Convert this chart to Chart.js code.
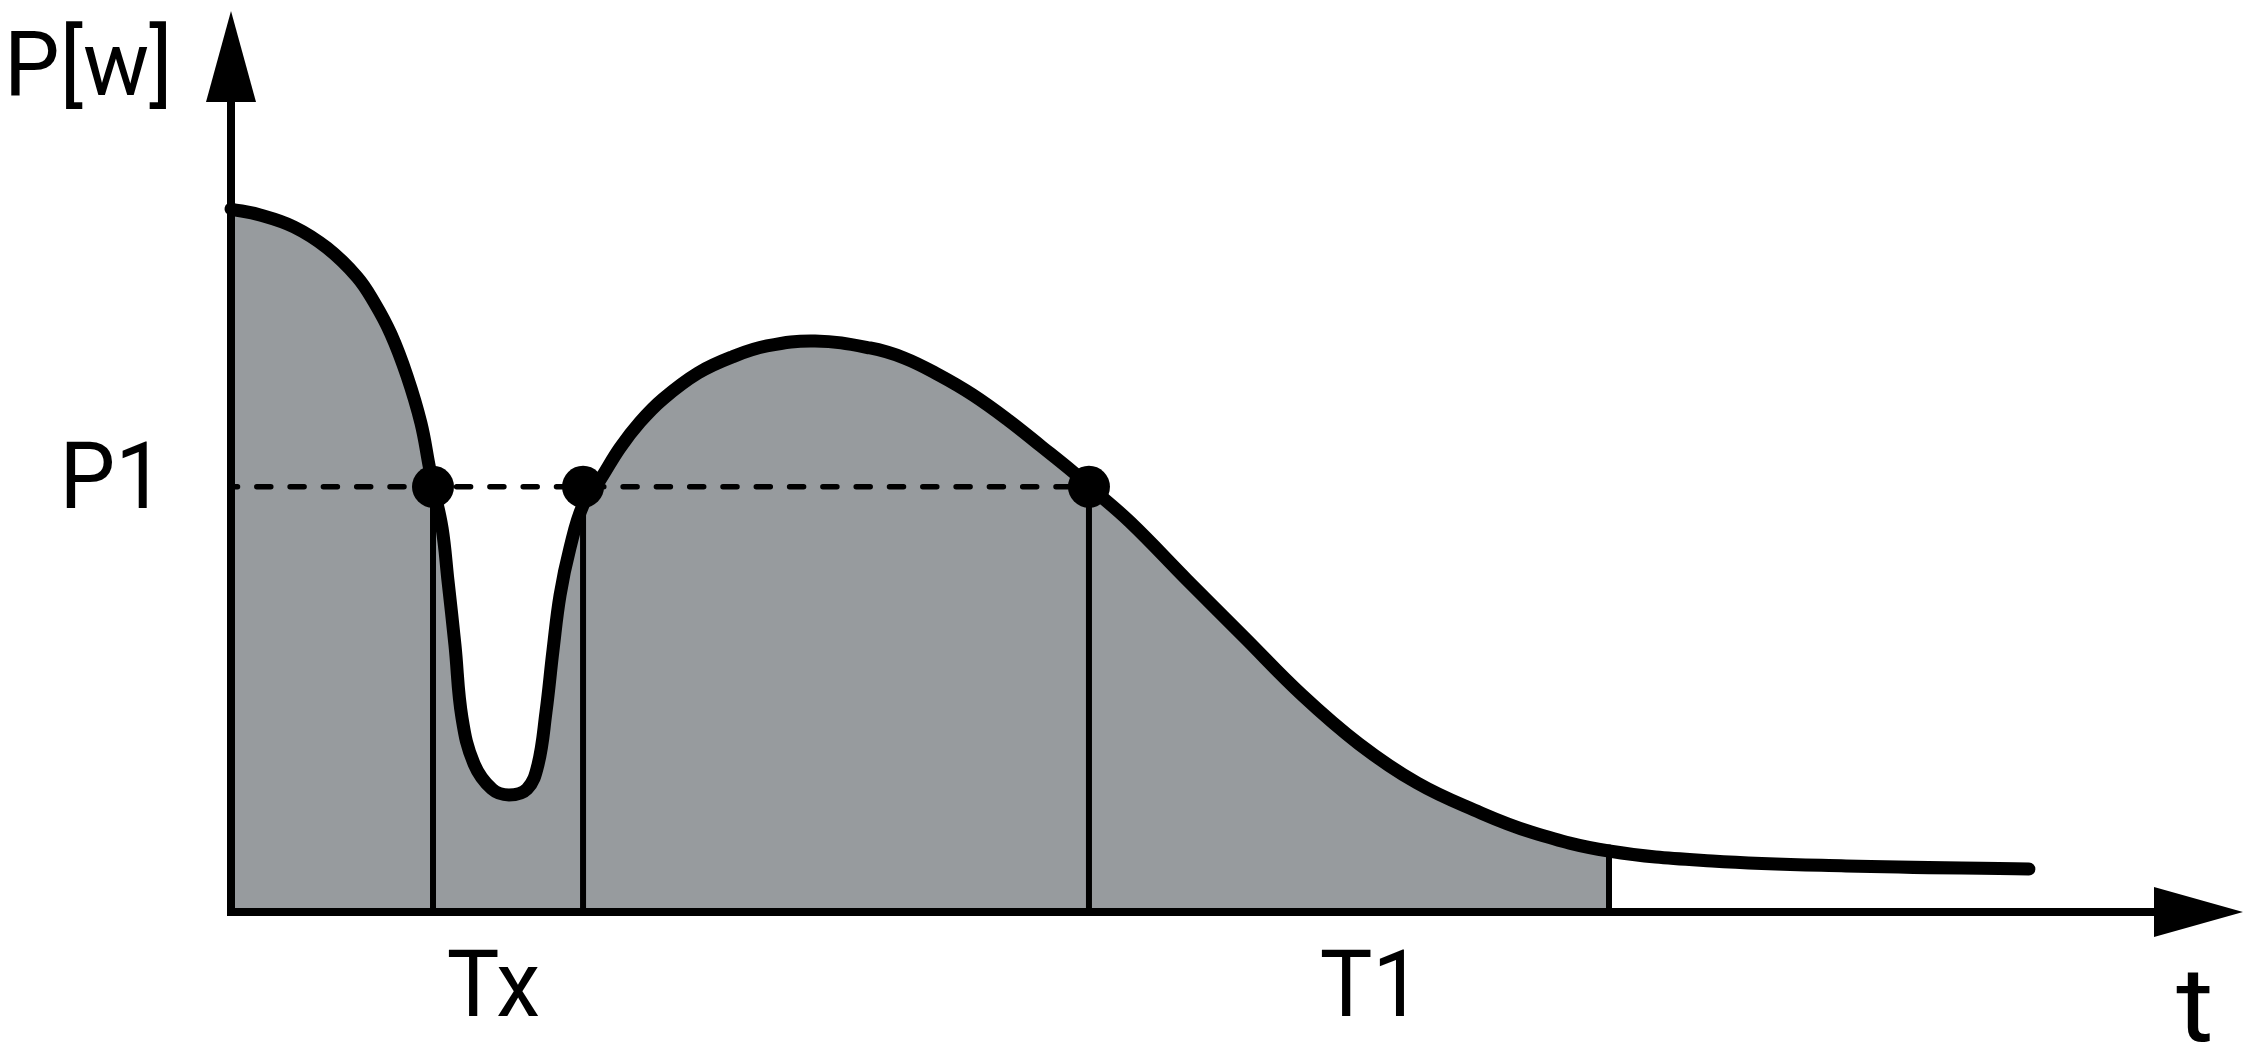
<!DOCTYPE html>
<html>
<head>
<meta charset="utf-8">
<script src="https://cdn.jsdelivr.net/npm/chart.js@4.4.1/dist/chart.umd.min.js"></script>
<style>
  html, body { margin: 0; padding: 0; background: #ffffff; }
  canvas { display: block; }
</style>
</head>
<body>
<canvas id="c" width="2245" height="1063"></canvas>
<script>
// ---- data (t in arbitrary time units, P in arbitrary power units) ----
const curveT = [0.00, 1.44, 3.13, 4.77, 6.26, 7.10, 7.94, 8.74, 9.43, 9.83, 10.03, 10.48, 10.77, 11.12, 11.47, 12.07, 12.96, 13.80, 14.70, 15.24, 15.64, 15.99, 16.34, 16.83, 17.48, 18.32, 19.31, 20.31, 21.45, 23.19, 24.88, 26.61, 29.00, 31.73, 33.42, 35.15, 36.84, 38.58, 40.27, 41.81, 42.65, 44.64, 47.47, 50.30, 53.18, 56.01, 58.89, 61.72, 64.55, 68.42, 73.54, 80.19, 89.27];
const curveP = [78.02, 77.36, 76.03, 73.70, 70.48, 67.70, 64.15, 59.49, 54.27, 49.61, 47.28, 42.62, 36.85, 29.63, 21.53, 16.43, 13.65, 12.99, 13.65, 16.32, 22.20, 29.08, 35.18, 40.40, 45.17, 47.95, 51.50, 54.38, 56.94, 59.82, 61.60, 62.82, 63.37, 62.60, 61.49, 59.60, 57.38, 54.61, 51.61, 48.83, 47.17, 43.28, 36.85, 30.52, 24.08, 18.65, 14.32, 11.32, 8.88, 6.77, 5.66, 5.11, 4.77];
const levelP1 = 47.2;                 // P1 threshold
const crossT = [10.03, 17.48, 42.6];  // times where curve meets P1 (dots)
const endT1 = 68.42;                  // end of integration window T1
const xTickValues = [13.03, 56.6];
const xTickLabels = ['Tx', 'T1'];
const yTickValues = [levelP1];
const yTickLabels = ['P1'];
const yAxisTitle = 'P[w]';
const xAxisTitle = 't';
const xRange = [0, 100];
const yRange = [0, 100];

// ---- styles ----
const GRAY = '#979b9e';
const FONT = 'Roboto, "Liberation Sans", Arial, sans-serif';

const curveData = curveT.map((t, i) => ({ x: t, y: curveP[i] }));
const t1Index = curveT.indexOf(endT1);
const t1P = curveP[t1Index];

const vLine = (t, top) => ({
  data: [{ x: t, y: 0 }, { x: t, y: top }],
  borderColor: '#000', borderWidth: 6, pointRadius: 0, fill: false,
  tension: 0, order: 3, clip: false, borderCapStyle: 'butt'
});

const datasets = [
  {
    label: 'P(t)',
    data: curveData,
    borderColor: '#000',
    borderWidth: 13,
    backgroundColor: GRAY,
    fill: 'origin',
    tension: 0.4,
    pointRadius: 0,
    borderCapStyle: 'round',
    borderJoinStyle: 'round',
    clip: false,
    order: 1,
    segment: {
      backgroundColor: ctx => (ctx.p0DataIndex >= t1Index ? 'rgba(0,0,0,0)' : GRAY)
    }
  },
  {
    label: 'P1 level',
    data: [{ x: 0, y: levelP1 }, { x: crossT[2], y: levelP1 }],
    borderColor: '#000', borderWidth: 5.5, borderDash: [14, 19.3], borderDashOffset: 7.5,
    borderCapStyle: 'round', pointRadius: 0, fill: false, tension: 0,
    order: 2, clip: false
  },
  ...crossT.map(t => vLine(t, levelP1)),
  vLine(endT1, t1P),
  {
    label: 'crossings',
    data: crossT.map(t => ({ x: t, y: levelP1 })),
    showLine: false, pointRadius: 21, pointHoverRadius: 21,
    pointBackgroundColor: '#000', pointBorderColor: '#000', pointBorderWidth: 0,
    fill: false, order: 0, clip: false
  }
];

function drawText(ctx, text, x, y, size, sx, align) {
  ctx.save();
  ctx.translate(x, y);
  ctx.scale(sx, 1);
  ctx.font = size + 'px ' + FONT;
  ctx.textAlign = align;
  ctx.textBaseline = 'alphabetic';
  ctx.fillText(text, 0, 0);
  ctx.restore();
}

const axesPlugin = {
  id: 'axesArrows',
  afterDatasetsDraw(chart) {
    const { ctx, scales: { x, y } } = chart;
    const x0 = x.getPixelForValue(xRange[0]);
    const y0 = y.getPixelForValue(yRange[0]);
    const xEnd = x.getPixelForValue(xRange[1]);
    const yEnd = y.getPixelForValue(yRange[1]);
    const head = 91, half = 25;
    ctx.save();
    ctx.strokeStyle = '#000';
    ctx.fillStyle = '#000';
    ctx.lineWidth = 8;
    ctx.lineCap = 'butt';
    // y axis
    ctx.beginPath();
    ctx.moveTo(x0, y0 + 4);
    ctx.lineTo(x0, yEnd + head);
    ctx.stroke();
    ctx.beginPath();
    ctx.moveTo(x0, yEnd);
    ctx.lineTo(x0 - half, yEnd + head);
    ctx.lineTo(x0 + half, yEnd + head);
    ctx.closePath();
    ctx.fill();
    // x axis
    ctx.beginPath();
    ctx.moveTo(x0 - 4, y0);
    ctx.lineTo(xEnd - head, y0);
    ctx.stroke();
    ctx.beginPath();
    ctx.moveTo(xEnd - 2, y0);
    ctx.lineTo(xEnd - head, y0 - half);
    ctx.lineTo(xEnd - head, y0 + half);
    ctx.closePath();
    ctx.fill();
    ctx.restore();

    // labels
    ctx.save();
    ctx.fillStyle = '#000';
    xTickValues.forEach((v, i) => {
      drawText(ctx, xTickLabels[i], x.getPixelForValue(v), y0 + 104, 93, 0.95, 'center');
    });
    yTickValues.forEach((v, i) => {
      drawText(ctx, yTickLabels[i], x0 - 66, y.getPixelForValue(v) + 21, 93, 0.95, 'right');
    });
    drawText(ctx, yAxisTitle, 4, yEnd + 84, 90, 0.98, 'left');
    drawText(ctx, xAxisTitle, xEnd - 50, y0 + 129, 104, 1.1, 'center');
    ctx.restore();
  }
};

new Chart(document.getElementById('c'), {
  type: 'line',
  data: { datasets },
  options: {
    responsive: false,
    devicePixelRatio: 1,
    animation: false,
    events: [],
    layout: { autoPadding: false, padding: { left: 231, right: 0, top: 11, bottom: 151 } },
    scales: {
      x: { type: 'linear', min: xRange[0], max: xRange[1], display: false },
      y: { type: 'linear', min: yRange[0], max: yRange[1], display: false }
    },
    plugins: {
      legend: { display: false },
      tooltip: { enabled: false },
      filler: { drawTime: 'beforeDatasetsDraw' }
    }
  },
  plugins: [axesPlugin]
});
</script>
</body>
</html>
